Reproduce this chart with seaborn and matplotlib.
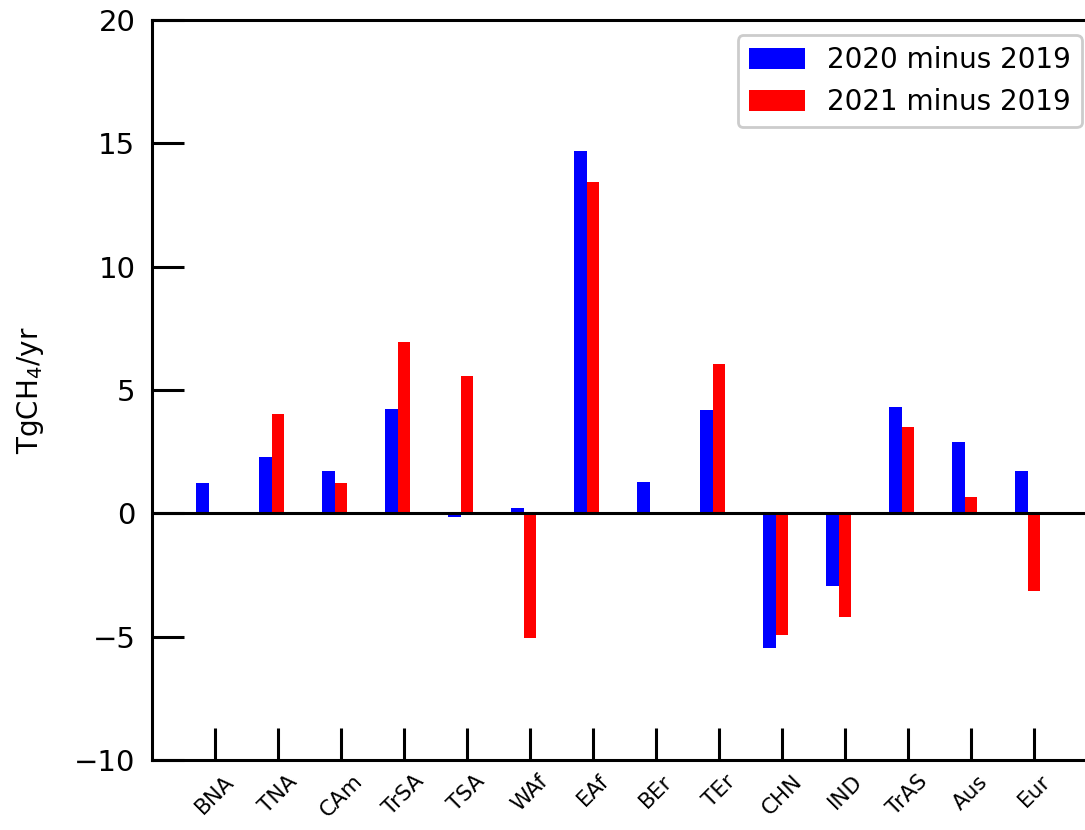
import numpy as np
import pandas as pd
import matplotlib
matplotlib.use("Agg")
import matplotlib.pyplot as plt
import seaborn as sns

# regional emission differences (TgCH4/yr)
regions = ['BNA', 'TNA', 'CAm', 'TrSA', 'TSA', 'WAf', 'EAf',
           'BEr', 'TEr', 'CHN', 'IND', 'TrAS', 'Aus', 'Eur']
diff_2020 = [1.25, 2.3, 1.7, 4.25, -0.15, 0.22, 14.7,
             1.27, 4.2, -5.45, -2.95, 4.3, 2.9, 1.7]
diff_2021 = [0.0, 4.03, 1.25, 6.95, 5.55, -5.05, 13.45,
             0.0, 6.05, -4.95, -4.2, 3.5, 0.65, -3.15]
series = ['2020 minus 2019', '2021 minus 2019']

df = pd.DataFrame({
    'region': regions * 2,
    'value': diff_2020 + diff_2021,
    'period': [series[0]] * len(regions) + [series[1]] * len(regions),
})

sns.set_style('white')
plt.rcParams['font.family'] = ['DejaVu Sans']
plt.rcParams['text.color'] = 'black'
plt.rcParams['axes.labelcolor'] = 'black'
plt.rcParams['xtick.color'] = 'black'
plt.rcParams['ytick.color'] = 'black'

fig = plt.figure(figsize=(10.85, 8.3), dpi=100)
ax = fig.add_axes([152 / 1085, 70 / 830, 945 / 1085, 740 / 830])

sns.barplot(data=df, x='region', y='value', hue='period', order=regions,
            hue_order=series, palette=['#0000ff', '#ff0000'],
            width=0.4, saturation=1, errorbar=None, ax=ax)
for p in ax.patches:
    p.set_edgecolor('none')

ax.axhline(0, color='black', lw=2.2, zorder=5)

ax.set_xlim(-0.9, 14.1)
ax.set_ylim(-10, 20)
ax.set_yticks([-10, -5, 0, 5, 10, 15, 20])
ax.set_xticks(np.arange(len(regions)) + 0.1)
ax.set_xticklabels(regions, rotation=45, ha='center', fontsize=15.5)
ax.tick_params(axis='y', left=True, labelsize=21, direction='in', length=23,
               width=2.2, pad=12, colors='black')
ax.tick_params(axis='x', bottom=True, direction='in', length=23, width=2.2,
               pad=8, colors='black')
ax.set_xlabel('')
ax.set_ylabel('TgCH$_4$/yr', fontsize=20, labelpad=20)

for s in ax.spines.values():
    s.set_linewidth(2.2)
    s.set_color('black')

leg = ax.legend(loc='upper right', fontsize=20, frameon=True, fancybox=True,
                edgecolor='#cccccc', framealpha=1, borderaxespad=0.55,
                handleheight=0.8)
leg.get_frame().set_linewidth(2)

fig.savefig('out.png', dpi=100)
